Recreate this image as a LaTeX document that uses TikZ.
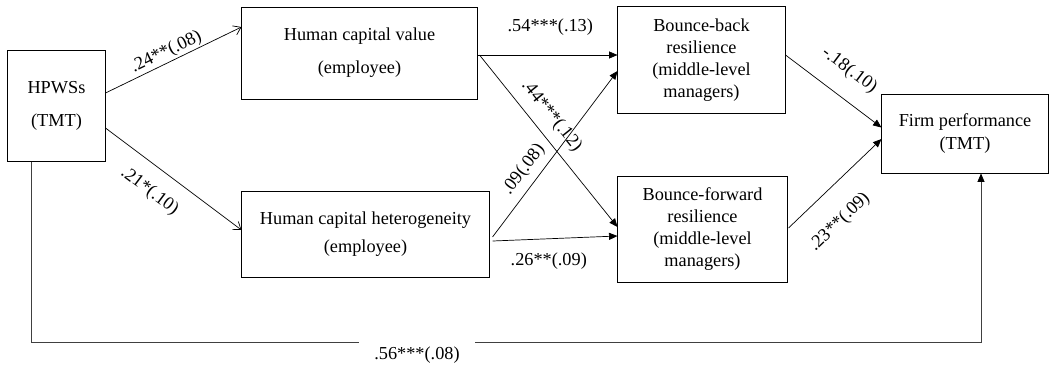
\documentclass[tikz,border=0pt]{standalone}
\usepackage{fontspec}
\setmainfont{Liberation Serif}
\usetikzlibrary{arrows.meta,calc}
\tikzset{
  box/.style={draw, line width=0.7pt, align=center, inner sep=2pt, font=\fontsize{13}{15.8}\selectfont},
  coef/.style={font=\fontsize{13}{15.8}\selectfont, inner sep=1pt},
  openarrow/.style={-{Straight Barb[length=5pt,width=7pt]}, line width=0.5pt},
  arrow/.style={-{Triangle[length=6pt,width=5pt,black]}, line width=0.5pt},
}

\begin{document}
\begin{tikzpicture}[x=0.025cm, y=-0.025cm]
\useasboundingbox (0,0) rectangle (1051,370);

\node[box, minimum width=2.425cm, minimum height=2.75cm] (hpws) at (56.5,106) {HPWSs\\[7.6pt](TMT)};
\node[box, minimum width=5.875cm, minimum height=2.3cm] (hcv) at (359.5,53) {Human capital value\\[7.6pt](employee)};
\node[box, minimum width=6.175cm, minimum height=2.15cm] (hch) at (365.5,234) {Human capital heterogeneity\\[4pt](employee)};
\node[box, minimum width=4.175cm, minimum height=2.65cm] (bb) at (701.5,60) {Bounce-back\\resilience\\(middle-level\\managers)};
\node[box, minimum width=4.225cm, minimum height=2.65cm] (bf) at (702.5,229) {Bounce-forward\\resilience\\(middle-level\\managers)};
\node[box, minimum width=4.15cm, minimum height=1.975cm] (fp) at (965,133.5) {Firm performance\\(TMT)};

% HPWSs -> human capital
\draw[openarrow] ($(hpws.east)+(0,-13)$) -- node[coef, sloped, above, pos=0.48] {.24**(.08)} ($(hcv.west)+(0,-26)$);
\draw[openarrow] ($(hpws.east)+(0,22)$) -- node[coef, sloped, below=10pt, pos=0.43] {.21*(.10)} ($(hch.west)+(0,-4)$);

% human capital -> resilience
\draw[arrow] ($(hcv.east)+(0,2)$) -- node[coef, above=13pt, pos=0.52] {.54***(.13)} ($(bb.west)+(0,-5)$);
\draw[arrow] ($(hcv.east)+(2,2)$) -- node[coef, sloped, above=5.7pt, pos=0.42] {.44***(.12)} ($(bf.west)+(0,-2)$);
\draw[arrow] ($(hch.east)+(3,3)$) -- node[coef, sloped, above=4pt, pos=0.35] {.09(.08)} ($(bb.west)+(0,11)$);
\draw[arrow] ($(hch.east)+(3,7)$) -- node[coef, below=9pt, pos=0.45] {.26**(.09)} ($(bf.west)+(0,7)$);

% resilience -> firm performance
\draw[arrow] ($(bb.east)+(0,-5)$) -- node[coef, sloped, above=11.5pt, pos=0.5] {-.18(.10)} ($(fp.west)+(0,-6)$);
\draw[arrow] ($(bf.east)+(1,-1)$) -- node[coef, sloped, below=15pt, pos=0.32] {.23**(.09)} ($(fp.west)+(0,5.5)$);

% direct effect
\draw[arrow, draw=black!75] ($(hpws.south)+(-25.5,0)$) -- ++(0,181) -| ($(fp.south)+(16,0)$);
\node[coef, fill=white, minimum width=2.9cm, minimum height=0.8cm] (direct) at (417,355) {.56***(.08)};
\end{tikzpicture}
\end{document}
